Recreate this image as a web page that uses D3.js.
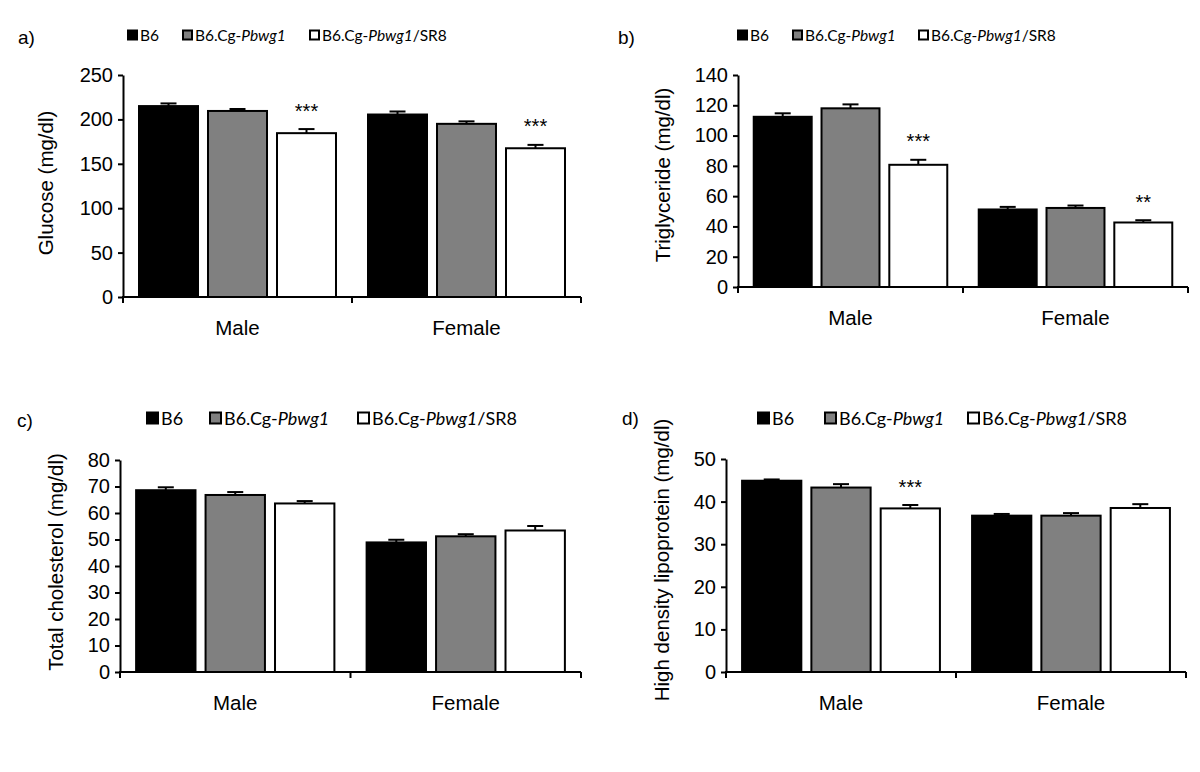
<!DOCTYPE html>
<html>
<head>
<meta charset="utf-8">
<script src="https://cdn.jsdelivr.net/npm/d3@7"></script>
<style>
  html, body { margin: 0; padding: 0; background: #fff; }
  svg { display: block; }
</style>
</head>
<body>
<svg id="chart" width="1200" height="772"></svg>
<script>
// ---------------- DATA ----------------
const sexes = ["Male", "Female"];
const strains = ["B6", "B6.Cg-Pbwg1", "B6.Cg-Pbwg1/SR8"];
const strainFills = ["#000000", "#808080", "#ffffff"];
// legend label pieces: [text, italic]
const legendParts = [
  [["B6", false]],
  [["B6.Cg-", false], ["Pbwg1", true]],
  [["B6.Cg-", false], ["Pbwg1", true], ["/SR8", false]]
];

// Glucose (mg/dl)  rows = sexes, cols = strains
const glucoseMean = [[215, 209.5, 184.5], [205.5, 195, 167.5]];
const glucoseSem  = [[3, 2.2, 4.6], [3.4, 2.8, 3.8]];
const glucoseStars = [["", "", "***"], ["", "", "***"]];
const glucoseTicks = [0, 50, 100, 150, 200, 250];

// Triglyceride (mg/dl)
const trigMean = [[112.4, 118, 80.7], [51.2, 52.2, 42.6]];
const trigSem  = [[2.3, 2.6, 3.3], [1.7, 1.6, 1.5]];
const trigStars = [["", "", "***"], ["", "", "**"]];
const trigTicks = [0, 20, 40, 60, 80, 100, 120, 140];

// Total cholesterol (mg/dl)
const cholMean = [[68.6, 66.8, 63.6], [48.9, 51.2, 53.4]];
const cholSem  = [[1.1, 1.1, 0.9], [1.0, 0.8, 1.7]];
const cholStars = [["", "", ""], ["", "", ""]];
const cholTicks = [0, 10, 20, 30, 40, 50, 60, 70, 80];

// High density lipoprotein (mg/dl)
const hdlMean = [[44.9, 43.3, 38.4], [36.7, 36.7, 38.5]];
const hdlSem  = [[0.3, 0.8, 0.8], [0.4, 0.6, 0.9]];
const hdlStars = [["", "", "***"], ["", "", ""]];
const hdlTicks = [0, 10, 20, 30, 40, 50];

// ---------------- LAYOUT ----------------
const panels = [
  { tag: "a)", mean: glucoseMean, sem: glucoseSem, stars: glucoseStars, ticks: glucoseTicks,
    title: "Glucose (mg/dl)",
    frame: { x0: 123, x1: 581, y0: 297, y1: 75 }, titlePos: [45, 183], tagPos: [18, 37],
    legend: { xs: [127, 182, 309], y: 35, size: 15.5, box: 11 } },
  { tag: "b)", mean: trigMean, sem: trigSem, stars: trigStars, ticks: trigTicks,
    title: "Triglyceride (mg/dl)",
    frame: { x0: 738, x1: 1188, y0: 287, y1: 75 }, titlePos: [662, 175], tagPos: [618, 37],
    legend: { xs: [737, 792, 918], y: 35, size: 15.5, box: 11 } },
  { tag: "c)", mean: cholMean, sem: cholSem, stars: cholStars, ticks: cholTicks,
    title: "Total cholesterol (mg/dl)",
    frame: { x0: 120, x1: 581, y0: 672, y1: 460 }, titlePos: [55, 562], tagPos: [17, 420],
    legend: { xs: [146, 209, 357], y: 418, size: 18, box: 13 } },
  { tag: "d)", mean: hdlMean, sem: hdlSem, stars: hdlStars, ticks: hdlTicks,
    title: "High density lipoprotein (mg/dl)",
    frame: { x0: 726, x1: 1186, y0: 672, y1: 459 }, titlePos: [661, 560], tagPos: [622, 418],
    legend: { xs: [757, 824, 967], y: 418, size: 18, box: 13 } }
];

const svg = d3.select("#chart");
const sansFont = "'Liberation Sans', Arial, sans-serif";
const legendFont = "Lato, 'Open Sans', sans-serif";

panels.forEach(p => {
  const g = svg.append("g");
  const f = p.frame;
  const y = d3.scaleLinear().domain([0, p.ticks[p.ticks.length - 1]]).range([f.y0, f.y1]);
  const xOuter = d3.scaleBand().domain(sexes).range([f.x0, f.x1]).paddingInner(0).paddingOuter(0);
  const xInner = d3.scaleBand().domain(strains).range([0, xOuter.bandwidth()])
    .paddingInner(0.145).paddingOuter(0.232);

  // panel tag
  g.append("text").attr("x", p.tagPos[0]).attr("y", p.tagPos[1])
    .attr("dominant-baseline", "central")
    .style("font-family", sansFont).style("font-size", "19px").text(p.tag);

  // legend
  const lg = g.append("g");
  strains.forEach((s, i) => {
    const lx = p.legend.xs[i], b = p.legend.box;
    lg.append("rect").attr("x", lx + 1).attr("y", p.legend.y - b / 2 + 1)
      .attr("width", b - 2).attr("height", b - 2)
      .attr("fill", strainFills[i]).attr("stroke", "#000").attr("stroke-width", 2);
    const t = lg.append("text").attr("x", lx + b + 2).attr("y", p.legend.y)
      .attr("dominant-baseline", "central")
      .style("font-family", legendFont).style("font-size", p.legend.size + "px");
    legendParts[i].forEach(([txt, it]) => {
      t.append("tspan").style("font-style", it ? "italic" : "normal").text(txt);
    });
  });

  // y axis
  const yAxis = d3.axisLeft(y).tickValues(p.ticks).tickSize(5).tickSizeOuter(0).tickPadding(5)
    .tickFormat(d3.format("d"));
  const ya = g.append("g").attr("transform", `translate(${f.x0},0)`).call(yAxis);
  ya.select(".domain").attr("stroke", "#000").attr("stroke-width", 2);
  ya.selectAll(".tick line").attr("stroke", "#000").attr("stroke-width", 2);
  ya.selectAll(".tick text").style("font-family", sansFont).style("font-size", "20px").attr("fill", "#000");

  // x axis: baseline and band-boundary ticks
  g.append("line").attr("x1", f.x0 - 1).attr("x2", f.x1).attr("y1", y(0)).attr("y2", y(0))
    .attr("stroke", "#000").attr("stroke-width", 2);
  const bounds = sexes.map(s => xOuter(s)).concat([f.x1]);
  g.selectAll(".xtick").data(bounds).join("line")
    .attr("x1", d => d).attr("x2", d => d).attr("y1", y(0)).attr("y2", y(0) + 6)
    .attr("stroke", "#000").attr("stroke-width", 2);
  g.selectAll(".xlab").data(sexes).join("text")
    .attr("x", d => xOuter(d) + xOuter.bandwidth() / 2).attr("y", y(0) + 30)
    .attr("text-anchor", "middle").attr("dominant-baseline", "central")
    .style("font-family", sansFont).style("font-size", "20.5px").text(d => d);

  // y title
  g.append("text")
    .attr("transform", `translate(${p.titlePos[0]},${p.titlePos[1]}) rotate(-90)`)
    .attr("text-anchor", "middle").attr("dominant-baseline", "central")
    .style("font-family", sansFont).style("font-size", "20.5px").text(p.title);

  // bars
  const cells = [];
  sexes.forEach((s, si) => strains.forEach((st, ti) => {
    cells.push({ s, st, ti, v: p.mean[si][ti], e: p.sem[si][ti], star: p.stars[si][ti] });
  }));
  const bw = xInner.bandwidth();
  g.selectAll(".err").data(cells).join("g").each(function (d) {
    const cx = xOuter(d.s) + xInner(d.st) + bw / 2;
    const sel = d3.select(this);
    sel.append("line").attr("x1", cx).attr("x2", cx).attr("y1", y(d.v)).attr("y2", y(d.v + d.e))
      .attr("stroke", "#000").attr("stroke-width", 2);
    sel.append("line").attr("x1", cx - 8).attr("x2", cx + 8).attr("y1", y(d.v + d.e)).attr("y2", y(d.v + d.e))
      .attr("stroke", "#000").attr("stroke-width", 2);
    if (d.star) {
      sel.append("text").attr("x", cx).attr("y", y(d.v + d.e) - 11.5)
        .attr("text-anchor", "middle")
        .style("font-family", sansFont).style("font-size", "20px").text(d.star);
    }
  });
  g.selectAll(".bar").data(cells).join("rect")
    .attr("x", d => xOuter(d.s) + xInner(d.st))
    .attr("y", d => y(d.v))
    .attr("width", bw)
    .attr("height", d => y(0) - y(d.v))
    .attr("fill", d => strainFills[d.ti])
    .attr("stroke", "#000").attr("stroke-width", 2);
});
</script>
</body>
</html>
